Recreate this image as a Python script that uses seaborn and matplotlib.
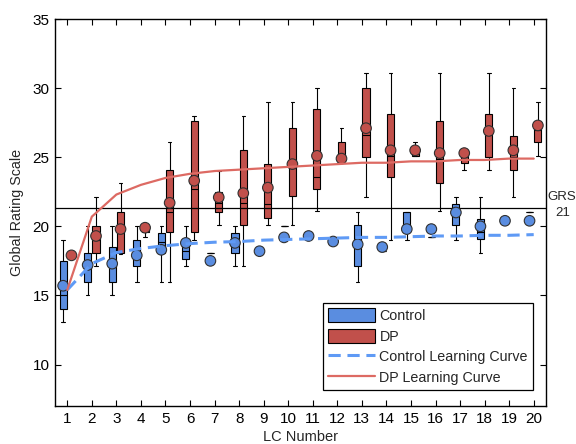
import pandas as pd
import matplotlib
matplotlib.use('Agg')
import matplotlib.pyplot as plt
import matplotlib.transforms as mtransforms
import seaborn as sns
from matplotlib.patches import Patch
from matplotlib.lines import Line2D

# Номера LC
lc = list(range(1, 21))

# Control: min, q1, median, q3, max, mean
ctrl_min = [13.1, 15.0, 15.0, 16.0, 16.0, 17.1, 18.1, 17.1, 18.2, 20.0,
            19.3, 18.9, 16.0, 18.2, 19.0, 19.2, 19.0, 18.1, 20.4, 21.0]
ctrl_q1 = [14.0, 16.0, 16.0, 17.1, 18.1, 17.6, 18.1, 18.1, 18.2, 20.0,
           19.3, 18.9, 17.1, 18.2, 19.8, 19.2, 20.1, 19.1, 20.4, 21.0]
ctrl_med = [15.0, 17.0, 17.5, 18.0, 18.9, 18.2, 18.1, 19.0, 18.2, 20.0,
            19.3, 18.9, 19.0, 18.2, 20.0, 19.2, 20.8, 19.6, 20.4, 21.0]
ctrl_q3 = [17.5, 18.1, 18.5, 19.0, 19.5, 19.0, 18.1, 19.5, 18.2, 20.0,
           19.3, 18.9, 20.1, 18.2, 21.0, 19.2, 21.6, 20.5, 20.4, 21.0]
ctrl_max = [19.0, 20.0, 20.0, 20.0, 20.0, 20.0, 18.1, 20.0, 18.2, 20.0,
            19.3, 18.9, 21.0, 18.2, 21.0, 19.2, 22.1, 22.1, 20.4, 21.0]
ctrl_mean = [15.7, 17.2, 17.3, 17.9, 18.3, 18.8, 17.5, 18.8, 18.2, 19.2,
             19.3, 18.9, 18.7, 18.5, 19.8, 19.8, 21.0, 20.0, 20.4, 20.4]

# DP: min, q1, median, q3, max, mean
dp_min = [17.8, 17.1, 18.0, 19.2, 16.0, 19.0, 20.1, 17.1, 20.1, 20.1,
          21.1, 24.7, 22.1, 19.0, 25.1, 21.1, 24.1, 24.1, 22.1, 25.1]
dp_q1 = [17.8, 18.1, 18.1, 19.6, 19.6, 19.6, 21.0, 20.1, 20.6, 22.2,
         22.7, 24.7, 25.0, 23.6, 25.1, 23.1, 24.6, 25.0, 24.1, 26.1]
dp_med = [17.8, 19.0, 19.5, 19.8, 21.0, 22.7, 21.7, 21.7, 21.6, 24.3,
          23.6, 25.0, 26.6, 25.1, 25.3, 24.9, 25.0, 26.6, 25.0, 27.0]
dp_q3 = [17.8, 20.0, 21.0, 20.0, 24.1, 27.6, 22.5, 25.5, 24.5, 27.1,
         28.5, 26.1, 30.0, 28.1, 25.6, 27.6, 25.5, 28.1, 26.5, 27.6]
dp_max = [17.8, 22.1, 23.1, 20.0, 26.1, 28.0, 24.0, 28.0, 29.0, 29.0,
          30.0, 27.1, 31.1, 31.1, 26.1, 31.1, 25.5, 31.1, 30.0, 29.0]
dp_mean = [17.9, 19.3, 19.8, 19.9, 21.7, 23.3, 22.1, 22.4, 22.8, 24.5,
           25.1, 24.9, 27.1, 25.5, 25.5, 25.3, 25.3, 26.9, 25.5, 27.3]

# Кривые обучения
ctrl_curve = [15.4, 17.3, 18.1, 18.4, 18.6, 18.75, 18.85, 18.9, 19.0, 19.05,
              19.1, 19.15, 19.2, 19.2, 19.25, 19.3, 19.3, 19.35, 19.35, 19.4]
dp_curve = [15.4, 20.7, 22.3, 23.0, 23.5, 23.8, 24.0, 24.1, 24.2, 24.3,
            24.4, 24.5, 24.6, 24.6, 24.7, 24.7, 24.8, 24.8, 24.9, 24.9]

grs_line = 21.3

blue = '#5a8de0'
red = '#c1504b'
blue_curve = '#5f9af5'
red_curve = '#dd6a63'

sns.set_style('ticks')
plt.rcParams['font.family'] = ['Liberation Sans', 'DejaVu Sans']

# Данные для боксплотов в длинном формате
rows = []
groups = {'Control': (ctrl_min, ctrl_q1, ctrl_med, ctrl_q3, ctrl_max),
          'DP': (dp_min, dp_q1, dp_med, dp_q3, dp_max)}
for grp, stats in groups.items():
    for i, n in enumerate(lc):
        for s in stats:
            rows.append({'LC': n, 'Group': grp, 'GRS': s[i]})
data = pd.DataFrame(rows)

means = pd.DataFrame({'LC': lc * 2,
                      'Group': ['Control'] * len(lc) + ['DP'] * len(lc),
                      'mean': ctrl_mean + dp_mean})
shift = {'Control': -0.17, 'DP': 0.17}
means['pos'] = means['LC'] + means['Group'].map(shift)

fig = plt.figure(figsize=(5.76, 4.44), dpi=100)
ax = fig.add_axes([0.0955, 0.0856, 0.8524, 0.8716])

sns.boxplot(data=data, x='LC', y='GRS', hue='Group', hue_order=['Control', 'DP'],
            palette={'Control': blue, 'DP': red}, native_scale=True,
            width=0.68, gap=0.15, whis=(0, 100), showfliers=False,
            linecolor='black', linewidth=0.8, saturation=1, legend=False, ax=ax)

sns.scatterplot(data=means, x='pos', y='mean', hue='Group',
                palette={'Control': blue, 'DP': red}, s=58,
                edgecolor='#303030', linewidth=0.8, legend=False, zorder=4, ax=ax)

ax.axhline(grs_line, color='black', lw=0.9, zorder=2)

sns.lineplot(x=lc, y=ctrl_curve, color=blue_curve, lw=2.2, linestyle='--', ax=ax, zorder=5)
ax.lines[-1].set_dashes([4, 2.2])
sns.lineplot(x=lc, y=dp_curve, color=red_curve, lw=1.6, ax=ax, zorder=5)

ax.set_xlim(0.5, 20.5)
ax.set_ylim(7, 35)
ax.set_xticks(lc)
ax.set_xticklabels([str(n) for n in lc])
ax.set_yticks([10, 15, 20, 25, 30, 35])
ax.tick_params(direction='in', length=4, width=0.8, top=True, right=True,
               labelsize=11, pad=4, colors='black')
for sp in ax.spines.values():
    sp.set_color('black')
    sp.set_linewidth(1)

ax.set_xlabel('LC Number', fontsize=10.5)
ax.set_ylabel('Global Rating Scale', fontsize=10.3)
ax.xaxis.set_label_coords(0.5, -0.062)
ax.yaxis.set_label_coords(-0.063, 0.5)

trans = mtransforms.blended_transform_factory(ax.transAxes, ax.transData)
ax.text(1.002, 22.15, 'GRS', transform=trans, fontsize=9.5, va='center', ha='left')
ax.text(1.02, 20.95, '21', transform=trans, fontsize=9.5, va='center', ha='left')

handles = [Patch(facecolor=blue, edgecolor='black', lw=0.8, label='Control'),
           Patch(facecolor=red, edgecolor='black', lw=0.8, label='DP'),
           Line2D([], [], color=blue_curve, lw=2.2, dashes=[4, 2.2],
                  label='Control Learning Curve'),
           Line2D([], [], color=red_curve, lw=1.6, label='DP Learning Curve')]
leg = ax.legend(handles=handles, loc='lower right', bbox_to_anchor=(0.9735, 0.041),
                borderaxespad=0, fontsize=10.3, handlelength=3.3, handleheight=1.15,
                handletextpad=0.3, labelspacing=0.4, borderpad=0.35,
                fancybox=False, framealpha=1, edgecolor='black')
leg.get_frame().set_linewidth(0.9)

fig.savefig('out.png', dpi=100)
